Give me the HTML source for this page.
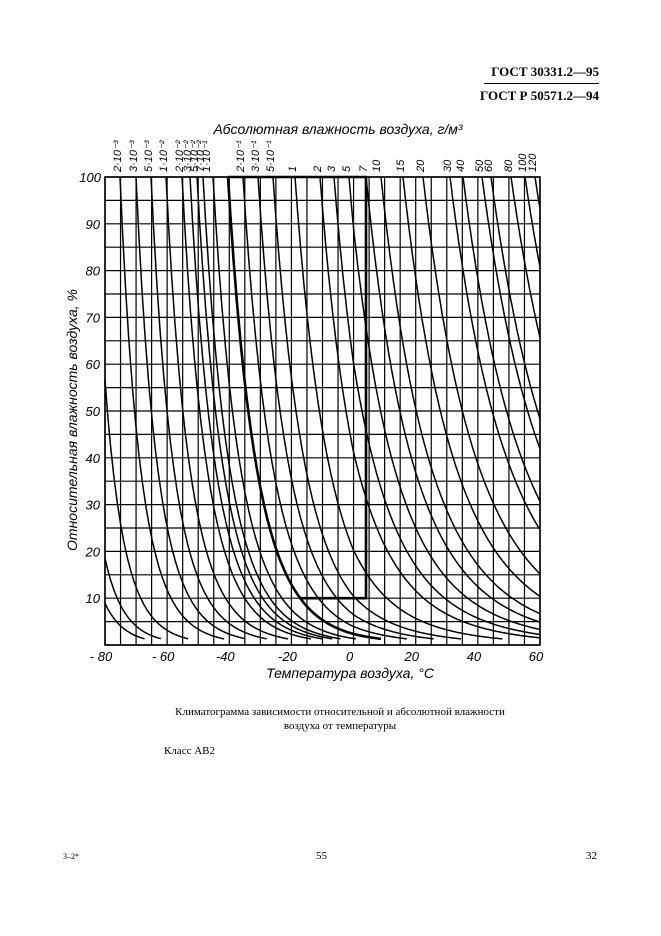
<!DOCTYPE html>
<html><head><meta charset="utf-8">
<style>
body{margin:0;background:#fff;}
.pg{position:relative;width:661px;height:936px;background:#fff;font-family:"Liberation Serif",serif;color:#000;overflow:hidden}
.t{position:absolute;white-space:nowrap}
</style></head><body><div class="pg">
<div class="t" style="right:62px;top:64px;font-weight:bold;font-size:13px">ГОСТ 30331.2—95</div>
<div style="position:absolute;left:484px;top:83px;width:115px;border-top:1px solid #000"></div>
<div class="t" style="right:62px;top:88px;font-weight:bold;font-size:13px">ГОСТ Р 50571.2—94</div>
<svg id="s" width="661" height="936" style="position:absolute;left:0;top:0"></svg>
<div class="t" style="left:0;width:680px;text-align:center;top:706px;font-size:11px">Климатограмма зависимости относительной и абсолютной влажности</div>
<div class="t" style="left:0;width:680px;text-align:center;top:720px;font-size:11px">воздуха от температуры</div>
<div class="t" style="left:164px;top:745px;font-size:11px">Класс АВ2</div>
<div class="t" style="left:63px;top:852px;font-size:8px">3–2*</div>
<div class="t" style="left:316px;top:850px;font-size:11px">55</div>
<div class="t" style="left:586px;top:850px;font-size:11px">32</div>
</div>
<script>
var L=105,R=540,T=177,B=645,K=(R-L)/140;
function X(t){return L+(t+80)*K}
function TX(x){return -80+(x-L)/K}
function Y(h){return B-h*(B-T)/100}
function rho(t){var e=t<0?6.112*Math.exp(22.46*t/(272.62+t)):6.112*Math.exp(17.62*t/(243.12+t));return 216.7*e/(t+273.15)}
var s='';
for(var t=-80;t<=60;t+=5){s+='<line x1="'+X(t)+'" y1="'+T+'" x2="'+X(t)+'" y2="'+B+'" stroke="#000" stroke-width="1.2"/>'}
for(var h=0;h<=100;h+=5){s+='<line x1="'+L+'" y1="'+Y(h)+'" x2="'+R+'" y2="'+Y(h)+'" stroke="#000" stroke-width="1.2"/>'}
var A=[[120,117,'2·10⁻³'],[136,133,'3·10⁻³'],[151,148,'5·10⁻³'],[166,163,'1·10⁻²'],[182,179,'2·10⁻²'],[190,187,'3·10⁻²'],[197,194,'5·10⁻²'],[203,200,'7·10⁻²'],[213,206,'1·10⁻¹'],[228,0,''],[243,240,'2·10⁻¹'],[258,255,'3·10⁻¹'],[273,270,'5·10⁻¹'],[295,292,'1'],[320,317,'2'],[334,331,'3'],[349,346,'5'],[366,363,'7'],[381,376,'10'],[403,400,'15'],[423,420,'20'],[450,447,'30'],[463,460,'40'],[482,479,'50'],[491,488,'60'],[511,508,'80'],[525,522,'100'],[535,532,'120']];
var f='font-family="Liberation Sans,sans-serif" font-style="italic"';
function curve(td,w){var d='';var r0=rho(td);
 for(var t=Math.max(td,-80);t<=60.01;t+=0.25){var rh=100*r0/rho(t);if(rh>100)rh=100;if(rh<1.3)break;d+=(d?'L':'M')+X(t).toFixed(1)+','+Y(rh).toFixed(1)}
 return '<path d="'+d+'" fill="none" stroke="#000" stroke-width="'+w+'"/>';}
[-83.5,-90,-94].forEach(function(td){s+=curve(td,1.5)});
A.forEach(function(p){var td=TX(p[0]);s+=curve(td,p[0]==228?2.6:1.5);
 if(p[2])s+='<text transform="translate('+(p[1]+4)+',172) rotate(-90)" '+f+' font-size="11">'+p[2]+'</text>';
});
var td01=TX(228),r0=rho(td01),tb=td01;
for(var t=td01;t<40;t+=0.05){if(100*r0/rho(t)<10){tb=t;break}}
s+='<path d="M228,'+T+' L366,'+T+' L366,'+Y(10)+' L'+X(tb)+','+Y(10)+'" fill="none" stroke="#000" stroke-width="2.6"/>';
s+='<rect x="'+L+'" y="'+T+'" width="'+(R-L)+'" height="'+(B-T)+'" fill="none" stroke="#000" stroke-width="1.6"/>';
for(var h=10;h<=100;h+=10)s+='<text x="'+(h==100?101:100)+'" y="'+(Y(h)+5)+'" text-anchor="end" '+f+' font-size="13">'+h+'</text>';
[[-80,'- 80'],[-60,'- 60'],[-40,'-40'],[-20,'-20'],[0,'0'],[20,'20'],[40,'40'],[60,'60']].forEach(function(p){s+='<text x="'+(X(p[0])-4)+'" y="661" text-anchor="middle" '+f+' font-size="13">'+p[1]+'</text>'});
s+='<text x="350" y="678" text-anchor="middle" '+f+' font-size="14">Температура воздуха, °С</text>';
s+='<text x="338" y="134" text-anchor="middle" '+f+' font-size="14">Абсолютная влажность воздуха, г/м³</text>';
s+='<text transform="translate(77,420) rotate(-90)" text-anchor="middle" '+f+' font-size="14">Относительная влажность воздуха, %</text>';
document.getElementById('s').innerHTML=s;
</script>
</body></html>
